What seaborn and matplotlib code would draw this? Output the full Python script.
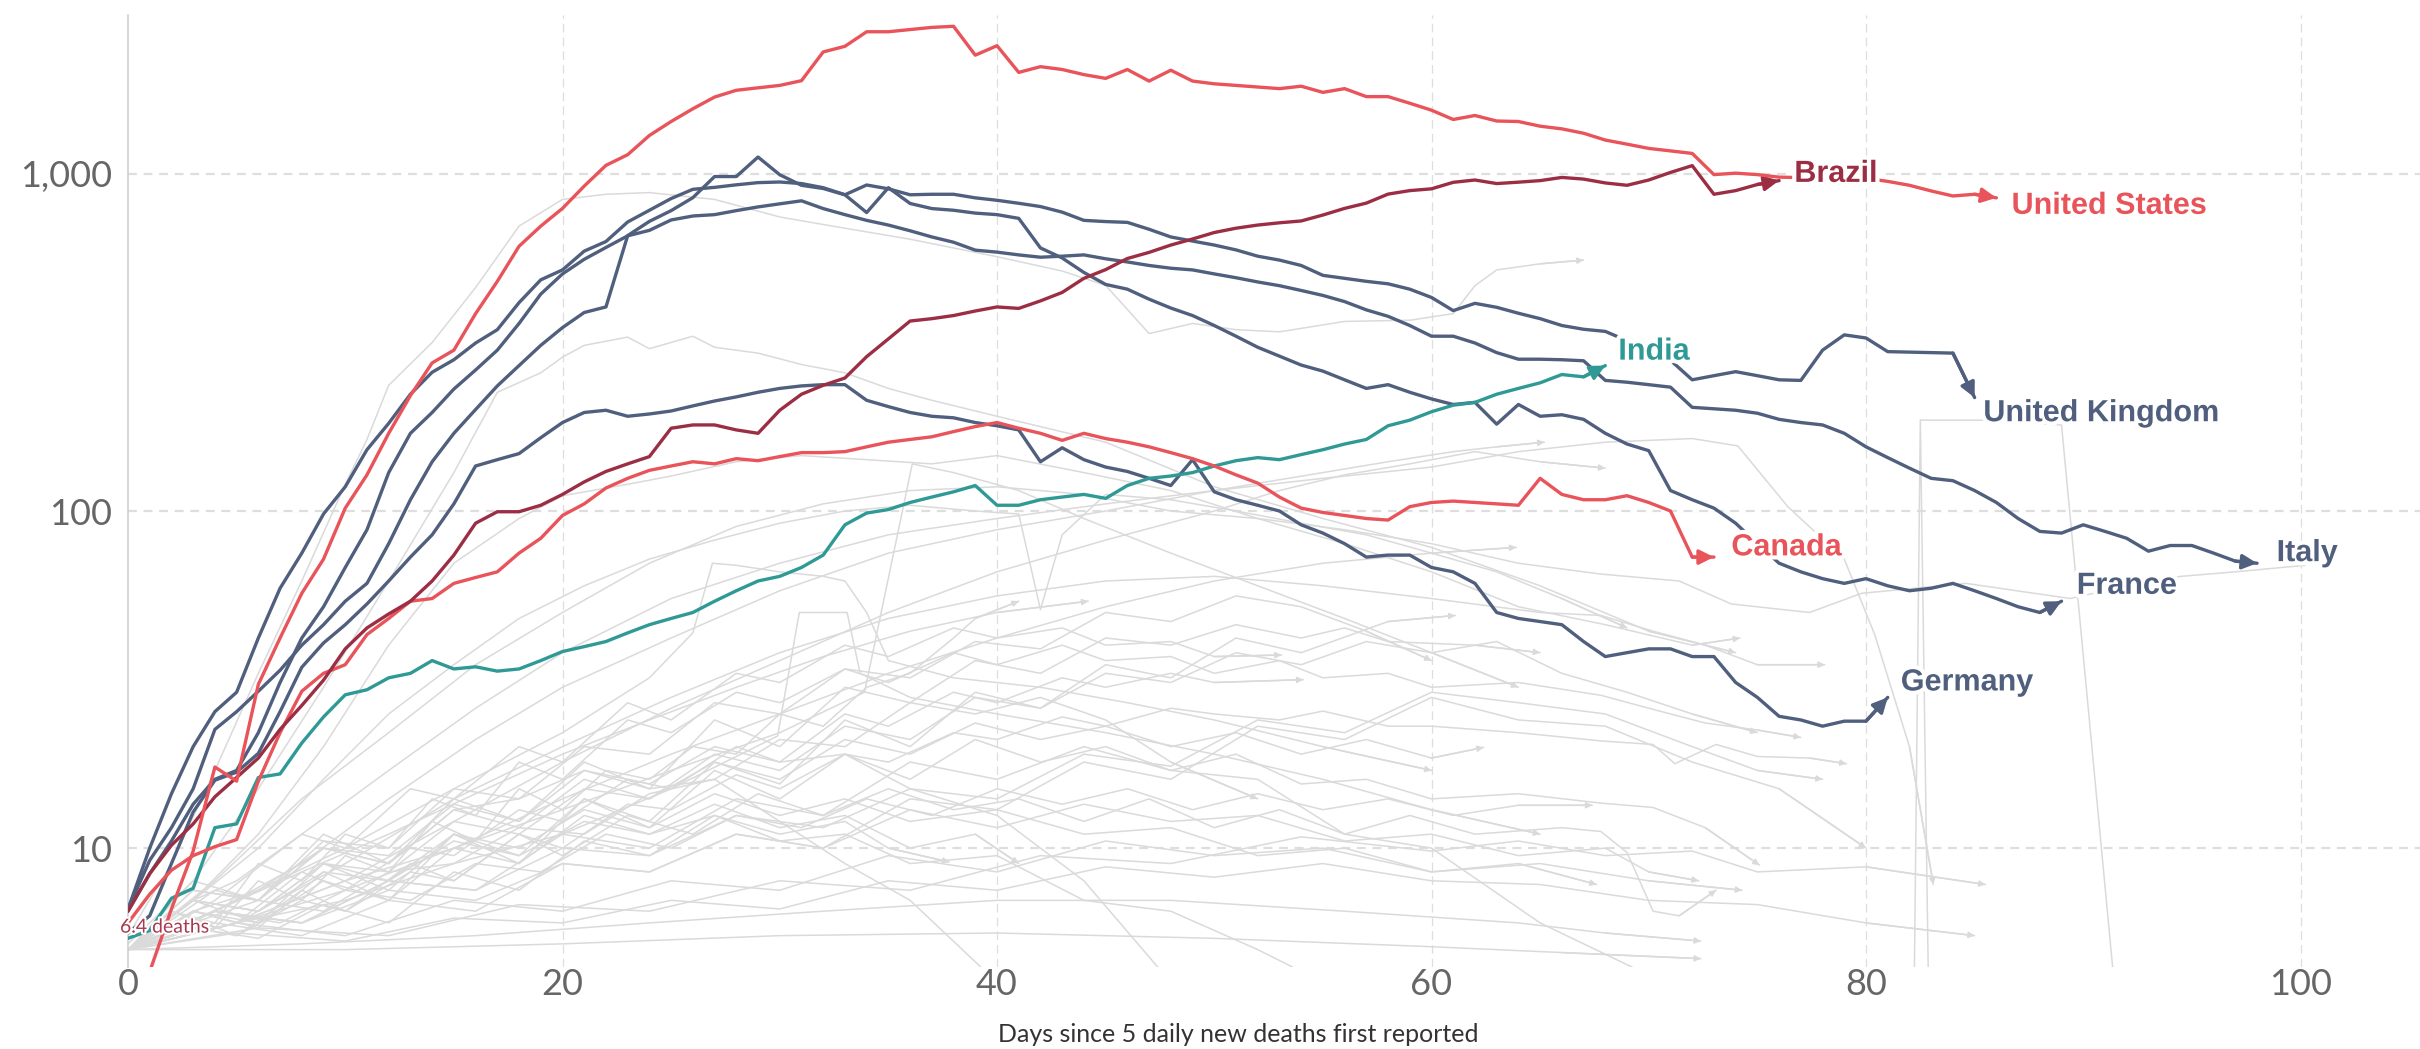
import matplotlib
matplotlib.use("Agg")
import matplotlib.pyplot as plt
import matplotlib.patheffects as pe
from matplotlib.ticker import NullLocator
import pandas as pd
import seaborn as sns

# daily new deaths (7-day avg) by days since 5 daily deaths first reported
us_days = list(range(1, 87))
us_deaths = [4.3, 6.6, 9.8, 17.4, 15.8, 30.6, 42, 57, 72, 102,
             128, 170, 220, 275, 300, 385, 480, 610, 700, 790,
             920, 1060, 1140, 1300, 1430, 1560, 1690, 1770, 1800, 1830,
             1890, 2300, 2390, 2640, 2640, 2680, 2720, 2740, 2250, 2400,
             2000, 2080, 2040, 1970, 1920, 2040, 1885, 2030, 1885, 1850,
             1830, 1810, 1790, 1820, 1745, 1790, 1695, 1695, 1620, 1545,
             1450, 1490, 1435, 1430, 1385, 1360, 1320, 1260, 1225, 1190,
             1170, 1150, 995, 1005, 995, 978, 975, 975, 972, 970,
             950, 925, 890, 860, 870, 849]

brazil_days = list(range(0, 77))
brazil_deaths = [6.5, 8.4, 10.2, 11.8, 14.2, 16.2, 18.5, 22.5, 26.5, 31.5,
                 39, 45, 49.5, 54, 62, 74, 92, 99.5, 99.5, 104,
                 112, 122, 131, 138, 145, 176, 180, 180, 174, 170,
                 199, 222, 236, 248, 287, 324, 366, 372, 380, 392,
                 403, 399, 420, 445, 490, 520, 561, 585, 615, 641,
                 670, 690, 705, 716, 725, 755, 790, 819, 871, 892,
                 903, 944, 959, 936, 945, 955, 976, 965, 940, 925,
                 959, 1010, 1058, 870, 892, 930, 955]

canada_days = list(range(0, 74))
canada_deaths = [6.0, 7.3, 8.6, 9.5, 10.1, 10.6, 15.8, 22, 29.2, 33,
                 35, 43, 48, 54, 55, 61, 63.5, 66, 75, 83,
                 97, 105, 117, 125, 132, 136, 140, 138, 143, 141,
                 145, 149, 149, 150, 155, 160, 163, 166, 172, 178,
                 183, 176, 170, 162, 170, 164, 160, 155, 149, 143,
                 136, 128, 121, 110, 102, 99, 97, 95, 94, 103,
                 106, 107, 106, 105, 104, 125, 112, 108, 108, 111,
                 106, 100, 73, 73]

india_days = list(range(0, 69))
india_deaths = [5.4, 5.7, 7.1, 7.6, 11.5, 11.8, 16.2, 16.6, 20.5, 24.5,
                28.5, 29.5, 32, 33, 36, 34, 34.5, 33.5, 34, 36,
                38.3, 39.6, 41, 43.5, 46, 48, 50, 54, 58, 62,
                64, 68, 74, 91, 98.6, 101, 106, 110, 114, 119,
                104, 104, 108, 110, 112, 109, 119, 125, 127, 130,
                136, 141, 144, 142, 147, 152, 158, 163, 179, 186,
                197, 206, 210, 222, 231, 240, 254, 250, 270]

uk_days = list(range(0, 86))
uk_deaths = [6.6, 10, 14.5, 20, 25.4, 29, 42, 59, 75, 98,
             118, 152, 182, 222, 258, 281, 315, 345, 415, 485,
             519, 590, 630, 720, 780, 845, 900, 912, 928, 942,
             946, 936, 910, 867, 927, 903, 867, 870, 870, 849,
             835, 818, 800, 770, 728, 722, 718, 685, 650, 632,
             615, 595, 570, 555, 535, 500, 490, 480, 472, 455,
             430, 393, 413, 402, 386, 372, 355, 346, 341, 320,
             300, 280, 245, 252, 259, 252, 245, 244, 300, 333,
             326, 297, 296, 295, 294, 217]

italy_days = list(range(0, 99))
italy_deaths = [6.5, 8.4, 10.5, 13.5, 16, 17, 22, 31, 42, 52,
                68, 88, 130, 170, 196, 230, 262, 300, 360, 440,
                505, 558, 605, 655, 680, 730, 750, 757, 778, 798,
                815, 832, 789, 757, 728, 705, 678, 650, 627, 594,
                586, 575, 566, 570, 575, 560, 548, 535, 525, 519,
                505, 492, 478, 466, 451, 436, 418, 395, 378, 355,
                330, 330, 315, 295, 282, 282, 281, 279, 244, 241,
                237, 233, 203, 201, 199, 195, 187, 183, 180, 170,
                155, 144, 134, 125, 123, 115, 106, 95, 87, 86,
                91, 87, 83, 76, 79, 79, 75, 71, 70]

france_days = list(range(0, 90))
france_deaths = [6.6, 9.2, 11.5, 15, 22.5, 25.4, 29.2, 33.7, 40, 46,
                 54, 61, 80, 108, 140, 170, 200, 235, 270, 310,
                 350, 388, 403, 656, 723, 778, 850, 982, 982, 1122,
                 994, 925, 905, 867, 768, 910, 817, 789, 780, 765,
                 757, 738, 603, 563, 510, 470, 455, 425, 400, 380,
                 355, 330, 306, 288, 271, 260, 245, 231, 237, 225,
                 215, 207, 210, 181, 207, 191, 193, 187, 170, 158,
                 151, 115, 108, 102, 92, 80, 70, 66, 63, 61,
                 63, 60, 58, 59, 61, 58, 55, 52, 50, 54]

germany_days = list(range(0, 82))
germany_deaths = [5.6, 6.3, 9, 12.8, 15.9, 16.8, 19.1, 25.4, 34.4, 40.6,
                  46, 53, 62, 73, 85, 105, 136, 142, 148, 165,
                  183, 196, 199, 191, 194, 198, 205, 212, 218, 225,
                  231, 235, 237, 237, 213, 204, 196, 191, 189, 183,
                  179, 174, 140, 154, 142, 135, 131, 125, 119, 142,
                  114, 108, 104, 100, 91, 86, 80, 73, 74, 74,
                  68, 66, 61, 50, 48, 47, 46, 41, 37, 38,
                  39, 39, 37, 37, 31, 28, 24.6, 24, 23, 23.8,
                  23.8, 28]

# other countries (grey background)
bg_days = [
    [0, 2, 4, 6, 8, 10, 11, 12, 14, 16, 18, 20, 22, 24, 27, 30, 33, 36, 40, 43, 45, 47, 49, 51, 53, 56, 59, 61, 62, 63, 65, 67],
    [0, 3, 6, 9, 12, 15, 17, 19, 20, 21, 23, 24, 26, 27, 29, 31, 33, 35, 37, 40, 45, 50, 55, 60, 65, 70, 74],
    [0, 3, 6, 9, 12, 15, 18, 20, 23, 25, 28, 31, 34, 37, 40, 44, 48, 52, 56, 60, 64, 68, 72, 74.2],
    [0, 2, 4, 6, 8, 10, 12, 14, 16, 18, 20, 22, 24, 26, 28, 30, 32, 34, 36, 38, 39, 41],
    [0, 3, 6, 9, 12, 15, 18, 21, 24, 27, 30, 33, 36, 39, 41, 42, 43, 45, 48, 51, 54, 57, 60, 63, 66, 69],
    [0, 4, 8, 12, 16, 20, 24, 28, 32, 36, 40, 44, 48, 52, 56, 60, 64, 67.8, 71.4, 73.8, 77.4, 79.8, 84.6, 89.4, 92, 94.5, 97, 100.2],
    [0, 5, 10, 15, 20, 25, 30, 35, 40, 45, 50, 55, 60, 65, 67.8, 70.2, 72.6, 75, 78.1],
    [0, 2, 4, 6, 8, 10, 12, 14, 16, 18, 20, 23, 25, 28, 30, 33, 35, 38, 40, 43, 45, 48, 50, 53, 55, 58, 60, 64, 67.8, 70.2, 72.6, 75, 77],
    [0, 3, 5, 8, 10, 13, 15, 18, 20, 23, 25, 28, 30, 33, 35, 38, 40, 43, 45, 48, 50, 53, 55, 58, 60, 64, 67.8, 70.2, 71.2, 73.1, 75, 77.4, 79.1],
    [0, 3, 6, 9, 12, 15, 18, 21, 24, 27, 30, 33, 36, 39, 42, 45, 48, 51, 54, 57, 60, 64, 67.8, 70.2, 72.6, 75.1],
    [0, 3, 5, 8, 10, 13, 15, 18, 20, 23, 26, 29, 32, 35, 38, 41, 44, 47, 50, 53, 56, 59, 62, 66, 67.8, 69, 70.2, 71.4, 73.1],
    [0, 4, 8, 12, 16, 20, 25, 30, 35, 40, 45, 50, 55, 60, 64, 68, 72, 74.1, 76.4, 79, 80.4, 82, 83.1],
    [0, 4, 8, 12, 16, 20, 25, 30, 35, 40, 45, 50, 55, 58, 61, 63, 65.2],
    [0, 5, 10, 15, 20, 25, 30, 35, 40, 45, 50, 53, 56, 59, 62, 65, 68],
    [0, 5, 10, 15, 20, 25, 30, 35, 40, 45, 50, 55, 60, 63.9],
    [0, 3, 6, 9, 12, 15, 18, 21, 24, 27, 30, 33, 36, 39, 42, 45, 48, 51, 54, 56, 58, 62, 65],
    [0, 3, 6, 9, 12, 15, 18, 21, 24, 27, 30, 33, 36, 39, 42, 45, 48, 51, 54, 58, 61.1],
    [0, 3, 5, 8, 10, 13, 15, 18, 20, 23, 25, 28, 30, 33, 35, 38, 40, 43, 45, 48, 50, 53.1],
    [0, 3, 5, 8, 10, 13, 15, 18, 20, 23, 25, 28, 30, 33, 35, 38, 40, 43, 45, 48, 50, 54.1],
    [0, 4, 6, 9, 12, 15, 18, 21, 24, 27, 30, 33, 36, 39, 42, 45, 48, 51, 54, 57, 60, 62.4],
    [0, 4, 7, 10, 13, 16, 19, 22, 25, 28, 31, 34, 37, 40, 43, 46, 49, 52, 55, 58, 61, 64, 67.4],
    [0, 4, 8, 12, 16, 20, 24, 28, 32, 36, 40, 44.2],
    [0, 3, 6, 9, 12, 15, 18, 21, 24, 27, 30, 33, 36, 39, 41],
    [0, 3, 6, 9, 12, 15, 18, 21, 24, 27, 30, 33, 35, 37.8],
    [0, 4, 8, 12, 16, 20, 24, 28, 32, 36, 40, 44, 48, 52, 56, 60, 64, 68, 70, 72.3],
    [0, 5, 10, 15, 20, 25, 30, 35, 40, 45, 50, 55, 60, 65, 70, 74.3],
    [0, 6, 12, 18, 24, 30, 36, 42, 48, 54, 60, 64, 68, 72, 75, 80, 85.5],
    [0, 8, 16, 24, 32, 40, 48, 56, 64, 68, 72.4],
    [0, 10, 20, 30, 40, 50, 60, 66, 72.4],
    [0, 3, 6, 9, 12, 15, 18, 21, 24, 27, 30, 33, 36, 40, 44, 48, 52, 56, 60, 64, 67.6],
    [0, 5, 10, 15, 20, 25, 30, 33.9, 36.1, 38, 41, 44, 48, 52, 56, 60, 64],
    [0, 5, 10, 15, 20, 25, 29.9, 30.9, 33.1, 33.7, 36, 40, 45, 50, 55, 60, 65],
    [0, 5, 10, 15, 20, 24, 26, 26.9, 28, 30, 32, 33, 34, 35, 38, 42, 46, 50, 55, 60],
    [82.2, 82.5, 82.9],
    [82.5, 85.3, 89, 91.6],
    [0, 3, 6, 9, 12, 15, 18, 21, 24, 27, 30, 33, 36, 40, 44, 48, 52, 55],
    [0, 3, 6, 9, 12, 15, 18, 21, 24, 27, 30, 33, 36, 40, 44, 48],
    [0, 4, 8, 12, 16, 20, 24, 28, 32, 36, 40, 44, 48, 52, 56, 60, 65, 70],
    [0, 3, 6, 9, 12, 15, 18, 21, 24, 27, 30, 33, 36, 40],
    [0, 4, 8, 12, 16, 20, 24, 28, 32, 36, 40, 44, 48, 52, 56, 60, 64, 68, 72, 76, 80],
    [0, 4, 8, 12, 16, 20, 24, 28, 32, 36, 40, 44, 48, 52, 56, 60, 64, 68, 72, 75, 78],
    [0, 3, 6, 9, 12, 15, 18, 21, 24, 27, 30, 33, 36, 39, 42, 45, 48, 51, 54, 57, 60, 63, 66, 69, 72, 75],
    [0, 3, 6, 9, 12, 15, 18, 21, 24, 27, 30, 33, 36, 39, 42, 45, 48, 51, 54, 57, 60],
    [0, 3, 6, 9, 12, 15, 18, 21, 24, 27, 30, 33, 36, 39, 42, 45, 48, 52],
    [0, 5, 10, 15, 20, 25, 30, 35, 40, 45, 50, 55, 60, 65, 70, 75, 80, 85],
]
bg_deaths = [
    [5.5, 9, 17, 33, 62, 120, 163, 236, 316, 460, 700, 840, 870, 880, 840, 745, 690, 640, 568, 515, 467, 336, 360, 345, 340, 365, 368, 385, 466, 519, 541, 555],
    [5.2, 8, 15, 30, 62, 130, 225, 257, 286, 310, 328, 303, 330, 306, 294, 272, 257, 231, 213, 191, 160, 118, 95, 78, 60, 44, 38],
    [5, 7, 11, 20, 40, 70, 95, 111, 120, 127, 140, 146, 142, 138, 146, 130, 115, 95, 80, 66, 52, 46, 40, 42],
    [5, 6.5, 5.8, 8, 7, 9.5, 8.5, 12, 10.5, 15, 13, 17, 16, 20, 19, 25, 23, 30, 33, 42, 48, 54],
    [5, 7, 10, 16, 25, 35, 48, 60, 72, 82, 92, 100, 104, 100, 98, 51, 85, 112, 108, 100, 92, 85, 75, 66, 55, 45],
    [5, 8, 14, 22, 35, 50, 70, 90, 105, 115, 118, 112, 100, 95, 88, 80, 70, 65, 62, 53, 50, 57, 61, 55, 60, 64, 66, 69],
    [5, 6, 9, 14, 20, 28, 38, 48, 56, 62, 64, 60, 55, 50, 49, 44, 40, 35, 35],
    [5, 6.5, 6, 9, 8, 11, 10, 14, 12.5, 18, 16, 24, 22, 29, 27, 34, 31, 38, 35, 40, 36, 37, 33, 36, 32, 33, 30, 31, 28.4, 25.8, 23.5, 22.4, 21.3],
    [5, 5.8, 5.5, 7, 6.5, 8.5, 8, 11, 10, 13.5, 13, 16.5, 15, 19, 18, 22, 21, 24.5, 23, 26, 25, 24, 25.5, 23, 23, 22, 20.8, 20.3, 17.8, 20.3, 18.7, 18.5, 17.8],
    [5, 7, 6, 9, 7.5, 11, 9, 14, 11.5, 17, 14, 19, 16, 21, 18, 20, 17, 19, 15.5, 16, 14, 14.5, 13.6, 13.2, 11.5, 8.9],
    [5, 6.2, 5.5, 7.5, 6.5, 9, 8, 11, 9.5, 12.5, 11, 14.5, 12.5, 15, 13, 14, 12, 14, 11.5, 13, 11, 12.5, 11, 11.5, 11.2, 9.7, 6.5, 6.3, 7.5],
    [5, 7, 11, 17, 26, 38, 55, 70, 85, 95, 105, 115, 125, 135, 150, 160, 164, 156, 103, 72, 43, 20, 7.8],
    [5, 6.5, 9, 14, 21, 30, 42, 58, 75, 88, 100, 115, 130, 140, 150, 155, 160],
    [5, 6, 8, 12, 18, 26, 36, 50, 66, 82, 100, 115, 128, 138, 150, 140, 134],
    [5, 6, 7.5, 10, 14, 19, 25, 33, 42, 52, 62, 70, 75, 78],
    [5, 8, 7, 11, 9, 14, 12, 18, 15, 24, 20, 30, 27, 36, 33, 42, 40, 46, 42, 45, 41, 40, 38],
    [5, 6.5, 5.8, 8.5, 7, 11, 9.5, 14, 12, 18, 15.5, 24, 20, 29, 26, 35, 32, 42, 38, 47, 49],
    [5, 7, 8, 11, 10, 15, 14, 20, 18, 27, 24, 33, 31, 40, 37, 45, 42, 45, 40, 41, 37, 37.4],
    [5, 6.5, 6, 8.5, 7.5, 10, 9.5, 13, 12, 16, 15, 20, 18, 25, 23, 29, 27, 32, 30, 33, 31, 31.6],
    [5, 7.5, 7, 10, 9, 13, 11.5, 16, 14, 18, 16, 21, 19, 23.5, 21, 23, 20, 22, 19, 21, 18.5, 19.9],
    [5, 6.5, 6, 7.5, 7, 9, 8.5, 11, 10, 12.5, 11.5, 14, 12.5, 15, 13.5, 15, 13, 14.5, 13, 14, 12.5, 13.4, 13.4],
    [5, 6.5, 8.5, 11, 14.5, 19, 24, 30, 37, 44, 50, 54],
    [5, 6.5, 6, 8, 7, 10, 9, 12.5, 11, 13.5, 11.5, 12.5, 10, 11, 9],
    [5, 5.8, 5.4, 6.8, 6, 8.5, 7.5, 10.5, 9.5, 12.5, 11, 12, 10, 9.1],
    [5, 6.5, 6, 7.5, 7, 9, 8.5, 11, 10, 13, 11.5, 13.5, 12, 12.5, 10.5, 11, 9.5, 10, 8.5, 8],
    [5, 6, 5.5, 7, 6.5, 8, 7.5, 9.5, 8.5, 10.5, 9.5, 10, 8.5, 9, 8, 7.5],
    [5, 5.8, 5.5, 6.8, 6.5, 8, 7.5, 9.5, 9, 10.8, 9.8, 10.5, 9.5, 9.8, 8.5, 8.8, 7.8],
    [5, 5.2, 5.5, 6, 6.5, 7, 7, 6.5, 6, 5.6, 5.3],
    [5, 5, 5.2, 5.5, 5.6, 5.4, 5.1, 4.9, 4.7],
    [5, 7, 6.5, 9, 8, 11, 10, 13, 11.5, 14.5, 12.5, 14, 12, 13, 11, 11.5, 9.5, 10, 8.5, 9, 7.8],
    [5, 6, 8, 10, 13, 17, 22, 29, 138, 130, 115, 95, 75, 60, 48, 38, 30],
    [5, 6, 7, 9, 11, 15, 21.5, 50, 50, 33, 28, 25, 22, 19, 16, 13, 11],
    [5, 7, 10, 15, 22, 32, 43.5, 70, 69, 66, 64, 62, 50, 36, 32, 30, 27, 24, 20, 17],
    [3, 186, 3],
    [186, 186, 180, 3],
    [5, 7, 6.5, 8.5, 8, 10.5, 9.5, 12, 11, 12.5, 10.5, 11, 9, 9.5, 7, 6.5, 5, 4],
    [5, 7.5, 7, 10, 9.5, 13.5, 12, 17, 15.5, 20, 18, 19, 15, 12.5, 8, 4],
    [5, 6.5, 6, 8, 7.5, 11, 10, 14, 12.5, 18, 16, 20, 17, 16, 11, 10, 6, 4.2],
    [5, 6.5, 7.5, 10, 9, 13, 14, 17, 15, 16, 12, 9, 7, 4],
    [5, 6, 5.5, 7, 6.5, 9, 8.5, 11, 10, 14, 13, 18, 16, 23, 21, 28, 24, 23, 18, 15, 10],
    [5, 6.5, 6, 8, 7.5, 10, 9.5, 12.5, 11.5, 15, 14, 19, 17.5, 24, 22, 29, 27, 25, 20, 17, 16],
    [5, 7, 6.5, 9, 8.5, 12, 11, 15, 14, 19, 17, 23, 21, 28, 26, 33, 31, 38, 35, 41, 38, 41, 33, 29, 25, 22],
    [5, 7.5, 7, 10.5, 10, 15, 14, 20, 19, 27, 25, 34, 32, 41, 39, 50, 47, 56, 52, 44, 36],
    [5, 6, 7, 6.5, 8.5, 9, 11.5, 11, 14.5, 16, 21, 20, 27, 25, 28, 24, 18, 14],
    [5, 5.6, 5.3, 6.2, 6, 7, 6.6, 8, 7.5, 8.8, 8.2, 9, 8, 7.8, 7, 6.8, 6, 5.5],
]

RED = "#e8545a"
DARKRED = "#9c2e44"
TEAL = "#2f9a95"
SLATE = "#4f5f7d"
GREY = "#dadada"

highlight = [
    ("Germany", germany_days, germany_deaths, SLATE, (81.6, 31)),
    ("France", france_days, france_deaths, SLATE, (89.7, 60)),
    ("Italy", italy_days, italy_deaths, SLATE, (98.9, 75)),
    ("United Kingdom", uk_days, uk_deaths, SLATE, (85.4, 195)),
    ("India", india_days, india_deaths, TEAL, (68.6, 297)),
    ("Canada", canada_days, canada_deaths, RED, (73.8, 78)),
    ("Brazil", brazil_days, brazil_deaths, DARKRED, (76.7, 1000)),
    ("United States", us_days, us_deaths, RED, (86.7, 804)),
]

sns.set_theme(style="white")
plt.rcParams["font.family"] = ["Lato", "DejaVu Sans"]

fig = plt.figure(figsize=(24.2, 10.49), dpi=100)
ax = fig.add_axes([128 / 2420, 1 - 967 / 1049, 1 - 128 / 2420, (967 - 15) / 1049])

ax.set_yscale("log")
ax.set_xlim(0, 105.5)
ax.set_ylim(4.44, 2960)

# grid
for y in [10, 100, 1000]:
    ax.axhline(y, color="#dedede", lw=1.6, ls=(0, (4, 3)), zorder=0)
for x in [20, 40, 60, 80, 100]:
    ax.axvline(x, color="#dedede", lw=0.9, ls=(0, (7, 4)), zorder=0)

# background countries
bg = pd.DataFrame({
    "line": [i for i, d in enumerate(bg_days) for _ in d],
    "day": [x for d in bg_days for x in d],
    "deaths": [v for vals in bg_deaths for v in vals],
})
sns.lineplot(data=bg, x="day", y="deaths", units="line", estimator=None,
             color=GREY, lw=1.1, sort=False, legend=False, ax=ax, zorder=1)
for d, v in zip(bg_days, bg_deaths):
    if v[-1] > 4.5 and d[-1] < 100:
        ax.annotate("", xy=(d[-1], v[-1]), xytext=(d[-2], v[-2]),
                    arrowprops=dict(arrowstyle="-|>", color=GREY, lw=1.1,
                                    mutation_scale=9, shrinkA=0, shrinkB=0),
                    zorder=1)

# highlighted countries
for name, d, v, c, (lx, ly) in highlight:
    sns.lineplot(x=d, y=v, color=c, lw=2.4, sort=False, estimator=None,
                 legend=False, ax=ax, zorder=3)
    ax.annotate("", xy=(d[-1], v[-1]), xytext=(d[-2], v[-2]),
                arrowprops=dict(arrowstyle="-|>", color=c, lw=2.4,
                                mutation_scale=22, shrinkA=0, shrinkB=0),
                zorder=3)
    ax.text(lx, ly, name, color=c, fontsize=22, fontweight="bold",
            family=["Liberation Sans", "DejaVu Sans"], ha="left", va="center",
            zorder=6, clip_on=False,
            path_effects=[pe.withStroke(linewidth=6, foreground="white")])

ax.text(-0.37, 5.83, "6.4 deaths", color="#a8384f", fontsize=14,
        ha="left", va="center", zorder=6, clip_on=False,
        path_effects=[pe.withStroke(linewidth=3, foreground="white")])

# axes styling
ax.set_yticks([10, 100, 1000])
ax.set_yticklabels(["10", "100", "1,000"])
ax.yaxis.set_minor_locator(NullLocator())
ax.set_xticks([0, 20, 40, 60, 80, 100])
ax.set_xticklabels(["0", "20", "40", "60", "80", "100"])
ax.tick_params(length=0, labelsize=26, labelcolor="#666666")
ax.tick_params(axis="y", pad=11.5)
ax.tick_params(axis="x", pad=1)
ax.set_xlabel("")
ax.set_ylabel("")
for s in ["top", "right", "bottom"]:
    ax.spines[s].set_visible(False)
ax.spines["left"].set_color("#cfcfcf")
ax.spines["left"].set_linewidth(1.2)

fig.text(1238 / 2420, 0.0067, "Days since 5 daily new deaths first reported",
         ha="center", va="baseline", fontsize=18, color="#333333")

fig.savefig("out.png", dpi=100)
